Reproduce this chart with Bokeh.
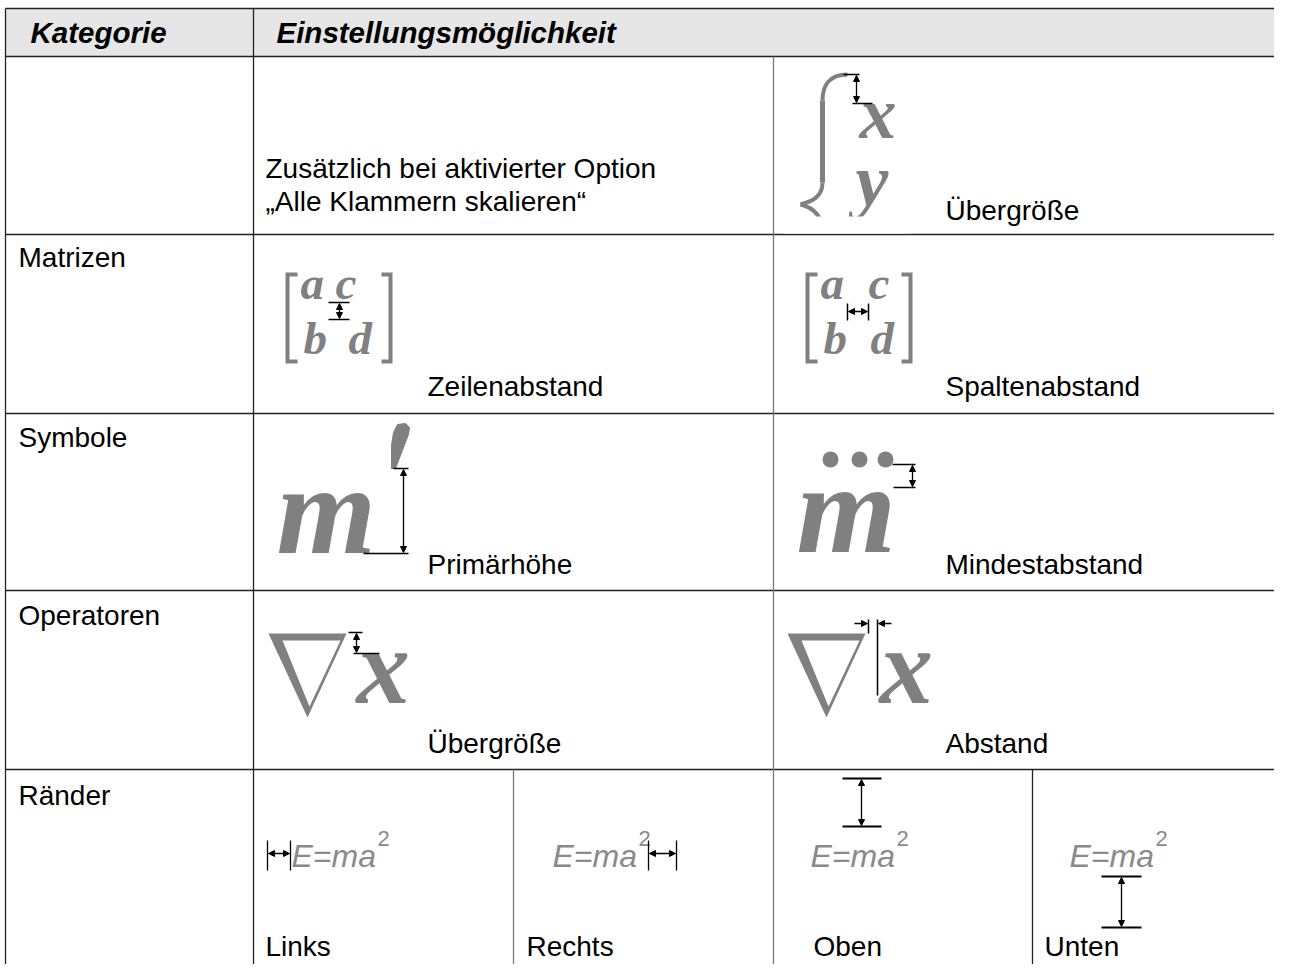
from bokeh.plotting import figure
from bokeh.models import Range1d, Arrow, NormalHead, ColumnDataSource
from bokeh.core.properties import value
from bokeh.embed import file_html
from bokeh.resources import INLINE

# ---------------- content ----------------
header = ["Kategorie", "Einstellungsmöglichkeit"]
categories = ["", "Matrizen", "Symbole", "Operatoren", "Ränder"]
row1_text = ["Zusätzlich bei aktivierter Option", "„Alle Klammern skalieren“"]
col_b_labels = ["", "Zeilenabstand", "Primärhöhe", "Übergröße"]
col_c_labels = ["Übergröße", "Spaltenabstand", "Mindestabstand", "Abstand"]
border_labels = ["Links", "Rechts", "Oben", "Unten"]
formula = "E=ma"
formula_sup = "2"

# ---------------- layout ----------------
SANS = "Liberation Sans"
SERIF = "Liberation Serif"
GREY = "#808080"
FS = "28px"

row_lines = [56, 234, 413, 590, 769]
col_b, col_c = 253, 773
sub_cols = [513, 1032]
row_label_y = [257, 437, 615, 795]
desc_y = [210, 386, 564, 743]
border_label_x = [265, 526, 813, 1044]

p = figure(width=1274, height=964, x_range=Range1d(0, 1274), y_range=Range1d(964, 0),
           output_backend="svg", toolbar_location=None, min_border=0)
p.axis.visible = False
p.grid.visible = False
p.outline_line_color = None
p.background_fill_color = "white"
p.border_fill_color = "white"

# header background
p.quad(left=[5], right=[1290], top=[8], bottom=[56], fill_color="#e6e6e6", line_color=None)

# grid lines
p.segment(x0=[5] * (len(row_lines) + 1), x1=[1290] * (len(row_lines) + 1),
          y0=row_lines + [8], y1=row_lines + [8], line_color="#222222", line_width=1.5)
p.segment(x0=[5, col_b], x1=[5, col_b], y0=[8, 8], y1=[980, 980], line_color="#222222", line_width=1.3)
p.segment(x0=[col_c], x1=[col_c], y0=[56], y1=[980], line_color="#777777", line_width=1.3)
p.segment(x0=sub_cols, x1=sub_cols, y0=[769, 769], y1=[980, 980],
          line_color=["#777777", "#222222"], line_width=1.3)


def txt(xs, ys, texts, size=FS, font=SANS, style="normal", color="black"):
    src = ColumnDataSource(dict(x=xs, y=ys, t=texts))
    p.text(x="x", y="y", text="t", source=src, text_font=value(font), text_font_style=style,
           text_font_size=size, text_color=color, text_baseline="middle", text_align="left")


def gtxt(xs, baselines, texts, size, font=SERIF, style="bold italic", color=GREY):
    # place glyph text by its baseline (middle of em box is ~0.34 em above baseline)
    ys = [b - 0.34 * size for b in baselines]
    txt(xs, ys, texts, size=f"{size}px", font=font, style=style, color=color)


# header text
txt([30, 276], [32, 32], header, size="29.5px", style="bold italic")
# category labels
txt([18] * 4, row_label_y, categories[1:])
# row 1 texts
txt([265, 265], [168, 201], row1_text)
# column descriptions
txt([427] * 3, desc_y[1:], col_b_labels[1:])
txt([945] * 4, desc_y, col_c_labels)
# border labels (kept inside the 964 px tall plot)
txt(border_label_x, [946] * 4, border_labels)


# ---------- helpers for dimension marks ----------
def head():
    return NormalHead(size=6, line_color="black", fill_color="black", line_width=1)


def arrow2(x0, y0, x1, y1):
    p.add_layout(Arrow(start=head(), end=head(), x_start=x0, y_start=y0, x_end=x1, y_end=y1,
                       line_width=1.3, line_color="black"))


def arrow1(x0, y0, x1, y1):
    p.add_layout(Arrow(end=head(), x_start=x0, y_start=y0, x_end=x1, y_end=y1,
                       line_width=1.3, line_color="black"))


def seg(x0, y0, x1, y1, w=1.5):
    p.segment(x0=[x0], y0=[y0], x1=[x1], y1=[y1], line_color="black", line_width=w)


# ---------- row 1: bracket size ----------
p.bezier(x0=[847], y0=[74], x1=[822], y1=[100], cx0=[828], cy0=[74], cx1=[822], cy1=[86],
         line_color=GREY, line_width=4)
p.segment(x0=[822], y0=[100], x1=[822], y1=[182], line_color=GREY, line_width=5)
p.bezier(x0=[822], y0=[182], x1=[800], y1=[204], cx0=[822], cy0=[196], cx1=[812], cy1=[201],
         line_color=GREY, line_width=4)
p.bezier(x0=[800], y0=[204], x1=[822], y1=[232], cx0=[812], cy0=[207], cx1=[822], cy1=[214],
         line_color=GREY, line_width=4)
gtxt([859], [138], ["x"], 74)
gtxt([855], [205], ["y"], 74)
p.quad(left=[782], right=[910], top=[216], bottom=[233], fill_color="white", line_color=None)
seg(843, 74, 859, 74)
seg(852, 103, 872, 103)
arrow2(856, 75, 856, 102)

# ---------- row 2: matrices ----------
for dx, cx, ddx in [(0, 335, 348), (520, 868, 870)]:
    p.multi_line(xs=[[297 + dx, 287 + dx, 287 + dx, 297 + dx], [381 + dx, 390 + dx, 390 + dx, 381 + dx]],
                 ys=[[274, 274, 361, 361], [274, 274, 361, 361]], line_color=GREY, line_width=4,
                 line_join="miter")
    gtxt([300 + dx, cx, 303 + dx, ddx], [298, 298, 353, 353], ["a", "c", "b", "d"], 47)
seg(328, 302, 349, 302)
seg(328, 319, 349, 319)
arrow2(339, 303, 339, 318)
seg(847, 303, 847, 320)
seg(868, 303, 868, 320)
arrow2(848, 311, 867, 311)

# ---------- row 3: symbols ----------
gtxt([276, 796], [553, 552], ["m", "m"], 128)
p.patch(x=[397, 405, 409, 408, 395, 391, 391, 393], y=[424, 423, 427, 434, 468, 468, 445, 432],
        fill_color=GREY, line_color=GREY)
seg(393, 468, 408, 468)
seg(363, 553, 408, 553)
arrow2(403, 469, 403, 552)
p.scatter(x=[830, 859, 885], y=[459, 459, 459], size=16, fill_color=GREY, line_color=None)
seg(892, 464, 915, 464)
seg(893, 487, 915, 487)
arrow2(912, 465, 912, 486)

# ---------- row 4: operators ----------
for dx in [0, 519]:
    p.multi_polygons(xs=[[[[268 + dx, 346 + dx, 307 + dx], [282 + dx, 340 + dx, 309 + dx]]]],
                     ys=[[[[633, 633, 717], [640, 640, 706]]]], fill_color=GREY, line_color=None)
gtxt([356, 879], [703, 703], ["x", "x"], 107)
seg(348, 632, 362, 632)
seg(353, 653, 379, 653)
arrow2(356, 633, 356, 652)
seg(868, 619, 868, 633)
seg(877, 619, 877, 695)
arrow1(854, 623, 867, 623)
arrow1(891, 623, 878, 623)

# ---------- row 5: borders ----------
fx = [291, 552, 810, 1069]
gtxt(fx, [866] * 4, [formula] * 4, 32, font=SANS, style="italic", color="#8a8a8a")
gtxt([x + 86 for x in fx], [845] * 4, [formula_sup] * 4, 22, font=SANS, style="normal", color="#8a8a8a")
# left
seg(267, 840, 267, 870, 1.3)
seg(290, 840, 290, 870, 1.3)
arrow2(268, 853, 289, 853)
# right
seg(648, 840, 648, 870, 1.3)
seg(676, 840, 676, 870, 1.3)
arrow2(649, 853, 675, 853)
# top
seg(842, 778, 881, 778, 2)
seg(842, 826, 881, 826, 2)
arrow2(861, 779, 861, 825)
# bottom
seg(1101, 876, 1141, 876, 2)
seg(1101, 927, 1141, 927, 2)
arrow2(1121, 877, 1121, 926)

open("out.html", "w").write(file_html(p, INLINE))
